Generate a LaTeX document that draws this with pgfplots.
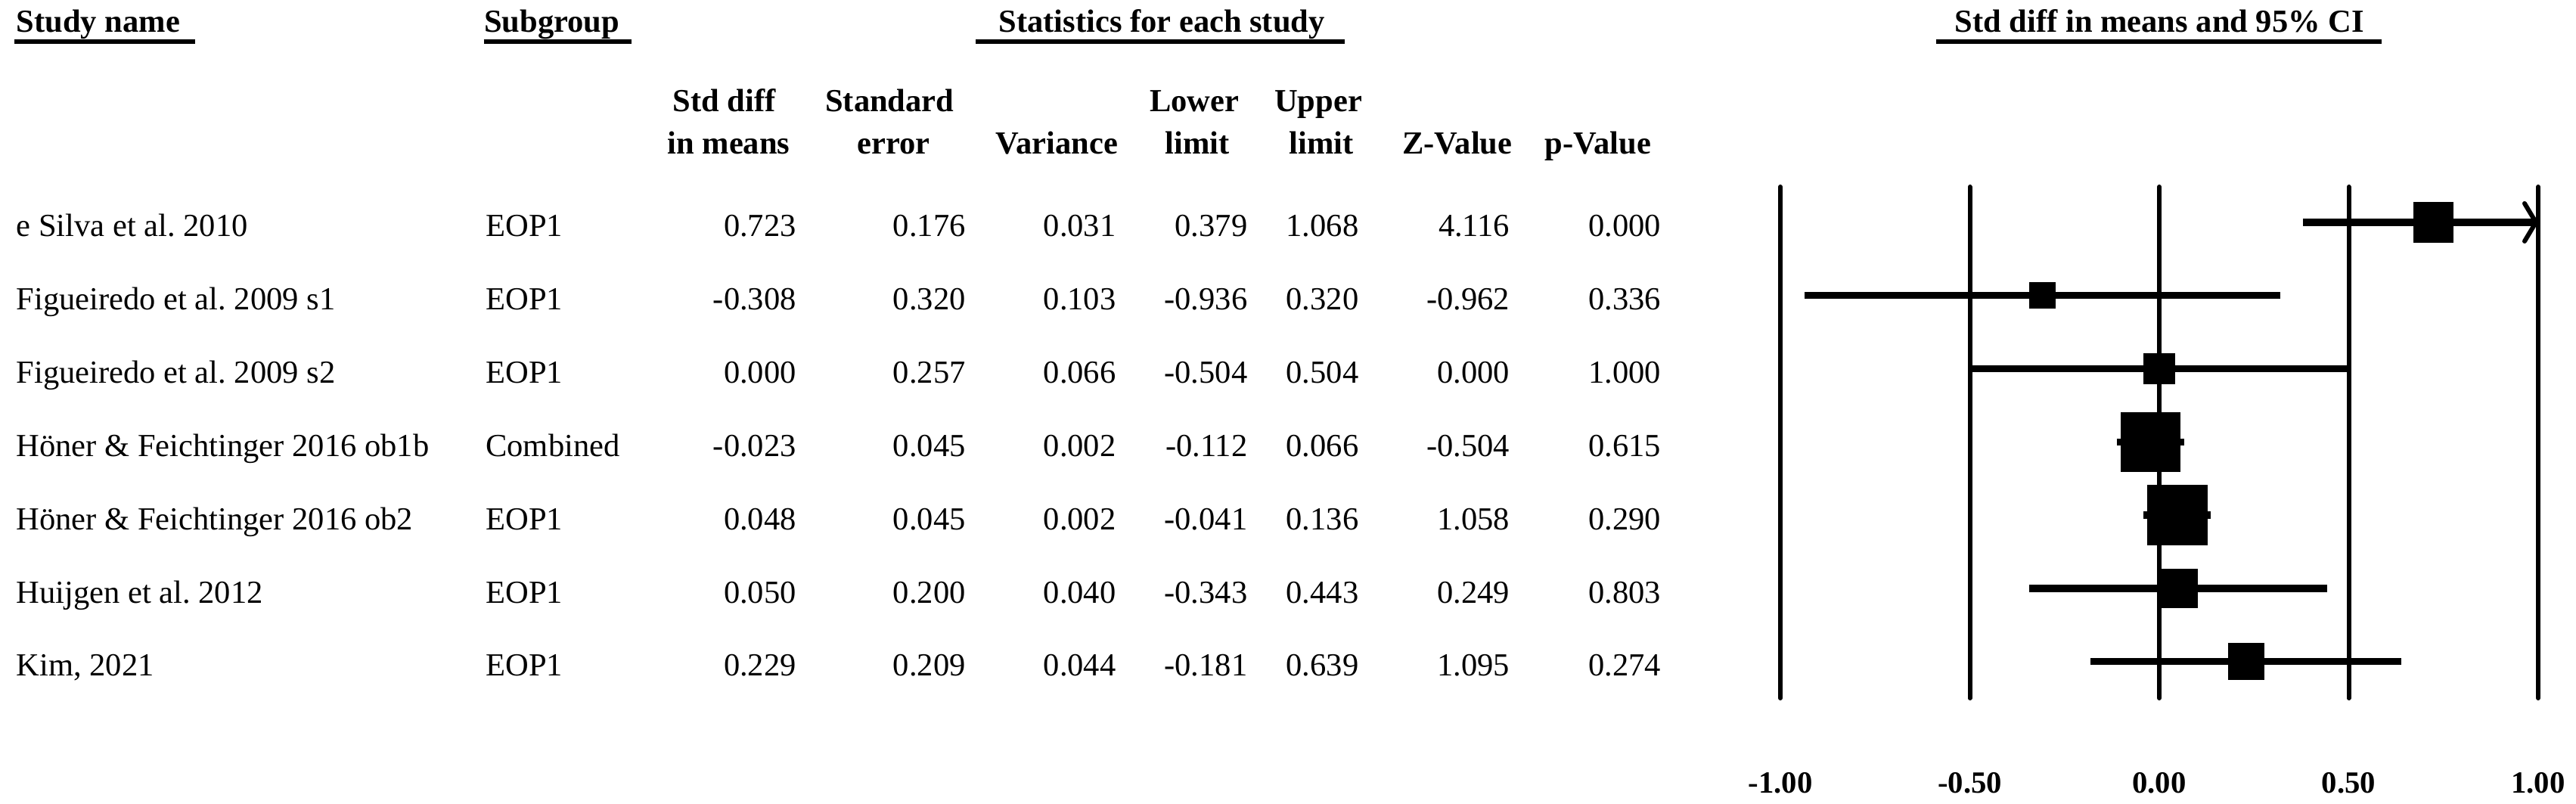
\documentclass[border=0pt]{standalone}
\usepackage{fontspec}
\setmainfont{Liberation Serif}
\usepackage{pgfplots}
\pgfplotsset{compat=1.18}
\begin{document}
\frenchspacing
\fontsize{12.1pt}{14pt}\selectfont
\begin{tikzpicture}
\useasboundingbox (0,0) rectangle (34.06cm,-10.62cm);
\begin{scope}[x=0.01cm,y=-0.01cm]
% headers
\begin{scope}[every node/.style={inner sep=0pt,font=\bfseries}]
\node[anchor=base west] at (21,43) {Study name};
\node[anchor=base west] at (640,43) {Subgroup};
\node[anchor=base] at (1537,43) {Statistics for each study};
\node[anchor=base] at (2857,43) {Std diff in means and 95\% CI};
\node[anchor=base] at (958,148) {Std diff};
\node[anchor=base] at (964,204) {in means};
\node[anchor=base] at (1177,148) {Standard};
\node[anchor=base] at (1182,204) {error};
\node[anchor=base] at (1398,204) {Variance};
\node[anchor=base] at (1580,148) {Lower};
\node[anchor=base] at (1584,204) {limit};
\node[anchor=base] at (1744,148) {Upper};
\node[anchor=base] at (1748,204) {limit};
\node[anchor=base] at (1928,204) {Z-Value};
\node[anchor=base] at (2114,204) {p-Value};
\end{scope}
\begin{scope}[line width=0.055cm]
\draw (19,55) -- (258,55);
\draw (640,55) -- (835,55);
\draw (1291,55) -- (1779,55);
\draw (2561,55) -- (3151,55);
\end{scope}
% table rows
\foreach \yb/\nm/\sg/\va/\vb/\vc/\vd/\ve/\vf/\vg in {
 313/e Silva et al. 2010/EOP1/0.723/0.176/0.031/0.379/1.068/4.116/0.000,
 410/Figueiredo et al. 2009 s1/EOP1/-0.308/0.320/0.103/-0.936/0.320/-0.962/0.336,
 507/Figueiredo et al. 2009 s2/EOP1/0.000/0.257/0.066/-0.504/0.504/0.000/1.000,
 604/Höner \& Feichtinger 2016 ob1b/Combined/-0.023/0.045/0.002/-0.112/0.066/-0.504/0.615,
 701/Höner \& Feichtinger 2016 ob2/EOP1/0.048/0.045/0.002/-0.041/0.136/1.058/0.290,
 798/Huijgen et al. 2012/EOP1/0.050/0.200/0.040/-0.343/0.443/0.249/0.803,
 894/{Kim, 2021}/EOP1/0.229/0.209/0.044/-0.181/0.639/1.095/0.274}{
 \node[inner sep=0pt,anchor=base west] at (21,\yb) {\nm};
 \node[inner sep=0pt,anchor=base west] at (642,\yb) {\sg};
 \node[inner sep=0pt,anchor=base east] at (1054,\yb) {\va};
 \node[inner sep=0pt,anchor=base east] at (1278,\yb) {\vb};
 \node[inner sep=0pt,anchor=base east] at (1477,\yb) {\vc};
 \node[inner sep=0pt,anchor=base east] at (1651,\yb) {\vd};
 \node[inner sep=0pt,anchor=base east] at (1798,\yb) {\ve};
 \node[inner sep=0pt,anchor=base east] at (1998,\yb) {\vf};
 \node[inner sep=0pt,anchor=base east] at (2198,\yb) {\vg};
}
\end{scope}
\begin{axis}[
  at={(23.54cm,-9.23cm)}, anchor=south west,
  scale only axis, width=10.02cm, height=6.76cm,
  xmin=-1, xmax=1, ymin=-6.5, ymax=0.485,
  xtick={-1,-0.5,0,0.5,1}, xticklabels={-1.00,-0.50,0.00,0.50,1.00},
  ytick=\empty,
  xmajorgrids, grid style={line width=0.06cm, black, line cap=round},
  axis line style={draw=none}, major tick length=0pt,
  xticklabel style={font=\bfseries\fontsize{11.6pt}{13pt}\selectfont, anchor=base, yshift=-1.25cm, inner sep=0pt},
  clip=false,
  ci/.style={black, line width=0.095cm, mark=none},
  sq/.style={only marks, mark=square*, mark options={fill=black, draw=none}},
]
% CI lines
\addplot[ci] coordinates {(0.379,0) (1.000,0)};
\addplot[black, line width=0.06cm, line cap=round, mark=none] coordinates {(0.964,0.258) (0.994,0) (0.964,-0.258)};
\addplot[ci] coordinates {(-0.936,-1) (0.320,-1)};
\addplot[ci] coordinates {(-0.504,-2) (0.504,-2)};
\addplot[ci] coordinates {(-0.112,-3) (0.066,-3)};
\addplot[ci] coordinates {(-0.041,-4) (0.136,-4)};
\addplot[ci] coordinates {(-0.343,-5) (0.443,-5)};
\addplot[ci] coordinates {(-0.181,-6) (0.639,-6)};
% point estimates (box size ~ weight)
\addplot[sq, mark size=0.26cm] coordinates {(0.723,0)};
\addplot[sq, mark size=0.17cm] coordinates {(-0.308,-1)};
\addplot[sq, mark size=0.20cm] coordinates {(0.000,-2)};
\addplot[sq, mark size=0.39cm] coordinates {(-0.023,-3)};
\addplot[sq, mark size=0.39cm] coordinates {(0.048,-4)};
\addplot[sq, mark size=0.25cm] coordinates {(0.050,-5)};
\addplot[sq, mark size=0.235cm] coordinates {(0.229,-6)};
\end{axis}
\end{tikzpicture}
\end{document}
